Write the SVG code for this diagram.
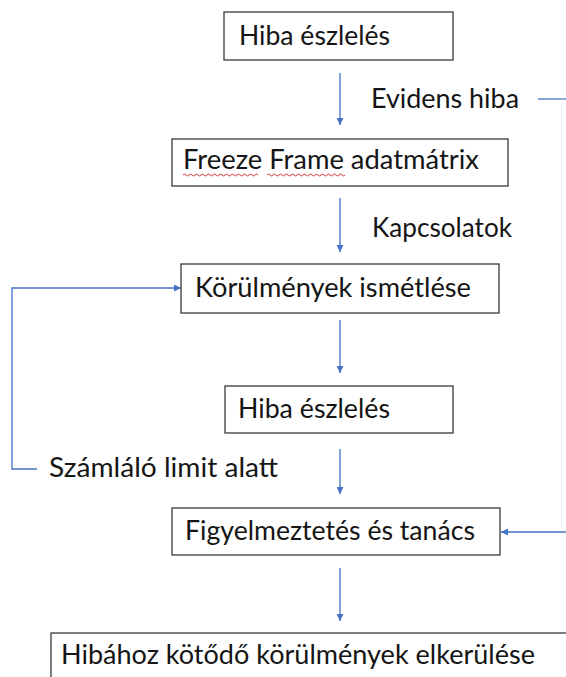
<svg xmlns="http://www.w3.org/2000/svg" width="566" height="677" viewBox="0 0 566 677">
<style>
.box{fill:#fff;stroke:#3a3a3a;stroke-width:1.3}
.t{font-family:Lato,"Open Sans","Liberation Sans",sans-serif;font-size:26px;fill:#151515}
.c{fill:none;stroke:#4472C4;stroke-width:1.3}
.sq{fill:none;stroke:#d02020;stroke-width:0.9}
</style>
<defs>
<marker id="ah" viewBox="0 0 10 10" refX="10" refY="5" markerWidth="7" markerHeight="7" markerUnits="userSpaceOnUse" orient="auto">
<path d="M0,0 L10,5 L0,10 z" fill="#4472C4"/>
</marker>
</defs>
<rect width="566" height="677" fill="#fff"/>
<g id="connectors">
<line class="c" x1="340" y1="73" x2="340" y2="125" marker-end="url(#ah)"/>
<line class="c" x1="340" y1="198" x2="340" y2="252" marker-end="url(#ah)"/>
<line class="c" x1="340" y1="320" x2="340" y2="373" marker-end="url(#ah)"/>
<line class="c" x1="340" y1="449" x2="340" y2="494" marker-end="url(#ah)"/>
<line class="c" x1="340" y1="568" x2="340" y2="621" marker-end="url(#ah)"/>
<polyline class="c" points="37,469 12,469 12,288 181,288" marker-end="url(#ah)"/>
<line class="c" x1="538" y1="99" x2="566" y2="99"/>
<line x1="562" y1="99" x2="562" y2="532" stroke="#eef1f7" stroke-width="1"/>
<line class="c" x1="566" y1="532" x2="501" y2="532" marker-end="url(#ah)"/>
</g>
<g id="label-evidens"><text class="t" x="371" y="108" textLength="148" lengthAdjust="spacingAndGlyphs">Evidens hiba</text></g>
<g id="label-kapcsolatok"><text class="t" x="372" y="237" textLength="140" lengthAdjust="spacingAndGlyphs">Kapcsolatok</text></g>
<g id="label-szamlalo"><text class="t" x="49" y="477" textLength="229" lengthAdjust="spacingAndGlyphs">Számláló limit alatt</text></g>
<g id="n1"><rect class="box" x="224" y="12" width="229" height="48"/><text class="t" x="239" y="45" textLength="151" lengthAdjust="spacingAndGlyphs">Hiba észlelés</text></g>
<g id="n2"><rect class="box" x="172" y="139" width="336" height="47"/><text class="t" x="183" y="169" textLength="296" lengthAdjust="spacingAndGlyphs">Freeze Frame adatmátrix</text>
<path class="sq" d="M183,175 q1.5,-2 3,0 t3,0 t3,0 t3,0 t3,0 t3,0 t3,0 t3,0 t3,0 t3,0 t3,0 t3,0 t3,0 t3,0 t3,0 t3,0 t3,0 t3,0 t3,0 t3,0 t3,0 t3,0 t3,0 t3,0 t3,0"/>
<path class="sq" d="M267,175 q1.5,-2 3,0 t3,0 t3,0 t3,0 t3,0 t3,0 t3,0 t3,0 t3,0 t3,0 t3,0 t3,0 t3,0 t3,0 t3,0 t3,0 t3,0 t3,0 t3,0 t3,0 t3,0 t3,0 t3,0 t3,0 t3,0 t3,0"/>
</g>
<g id="n3"><rect class="box" x="181" y="264" width="318" height="49"/><text class="t" x="195" y="297" textLength="276" lengthAdjust="spacingAndGlyphs">Körülmények ismétlése</text></g>
<g id="n4"><rect class="box" x="225" y="386" width="228" height="47"/><text class="t" x="238" y="418" textLength="152" lengthAdjust="spacingAndGlyphs">Hiba észlelés</text></g>
<g id="n5"><rect class="box" x="172" y="508" width="328" height="47"/><text class="t" x="185" y="540" textLength="290" lengthAdjust="spacingAndGlyphs">Figyelmeztetés és tanács</text></g>
<g id="n6"><rect class="box" x="51" y="633" width="530" height="60"/><text class="t" x="61" y="664" textLength="474" lengthAdjust="spacingAndGlyphs">Hibához kötődő körülmények elkerülése</text></g>
</svg>
